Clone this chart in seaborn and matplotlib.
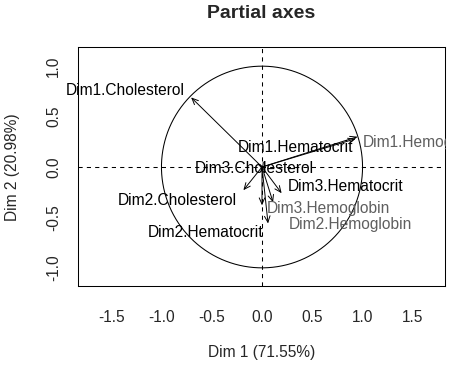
import numpy as np
import pandas as pd
import matplotlib
matplotlib.use("Agg")
import matplotlib.pyplot as plt
from matplotlib.transforms import Bbox
import seaborn as sns

# ---- data ----
names = ["Dim1.Cholesterol", "Dim1.Hematocrit", "Dim1.Hemoglobin",
         "Dim2.Cholesterol", "Dim2.Hematocrit", "Dim2.Hemoglobin",
         "Dim3.Cholesterol", "Dim3.Hematocrit", "Dim3.Hemoglobin"]
dim1 = [-0.705, 0.93, 0.95, -0.185, 0.00, 0.06, 0.01, 0.195, 0.11]
dim2 = [0.69, 0.28, 0.30, -0.23, -0.38, -0.56, -0.03, -0.26, -0.35]
groups = ["Cholesterol", "Hematocrit", "Hemoglobin",
          "Cholesterol", "Hematocrit", "Hemoglobin",
          "Cholesterol", "Hematocrit", "Hemoglobin"]
# label anchor positions (centre of each label, data units)
label_x = [-1.36, 0.33, 1.61, -0.84, -0.56, 0.875, -0.08, 0.83, 0.665]
label_y = [0.756, 0.19, 0.24, -0.33, -0.65, -0.57, -0.01, -0.19, -0.41]
xticks = [-1.5, -1.0, -0.5, 0.0, 0.5, 1.0, 1.5]
yticks = [-1.0, -0.5, 0.0, 0.5, 1.0]
xlabel = "Dim 1 (71.55%)"
ylabel = "Dim 2 (20.98%)"
title = "Partial axes"

group_colors = {"Cholesterol": "black", "Hematocrit": "black", "Hemoglobin": "#5f5f5f"}

df = pd.DataFrame({"name": names, "x": dim1, "y": dim2, "group": groups,
                   "lx": label_x, "ly": label_y})

sns.set_style("white")
plt.rcParams["font.family"] = ["Liberation Sans", "DejaVu Sans"]
fs = 11.2

fig = plt.figure(figsize=(4.5, 3.66), dpi=100)
ax = fig.add_axes([78 / 450, 1 - 286 / 366, (445 - 78) / 450, (286 - 47) / 366])

# unit circle
theta = np.linspace(0, 2 * np.pi, 400)
circ = pd.DataFrame({"cx": np.cos(theta), "cy": np.sin(theta), "o": np.arange(400)})
sns.lineplot(data=circ, x="cx", y="cy", sort=False, color="black", lw=0.75,
             ax=ax, estimator=None)

# dashed axes
ax.axhline(0, color="black", lw=0.75, ls=(0, (4, 4)))
ax.axvline(0, color="black", lw=0.75, ls=(0, (4, 4)))

# arrows
for _, r in df.iterrows():
    ax.annotate("", xy=(r["x"], r["y"]), xytext=(0, 0),
                arrowprops=dict(arrowstyle="->,head_length=0.45,head_width=0.2",
                                color="black", lw=0.7, shrinkA=0, shrinkB=0))
clip = Bbox.from_extents(0, 0, 446, 366)
for _, r in df.iterrows():
    t = ax.text(r["lx"], r["ly"], r["name"], ha="center", va="center",
                fontsize=fs, color=group_colors[r["group"]], clip_on=True)
    t.set_clip_box(clip)

ax.set_xlim(-1.83, 1.82)
ax.set_ylim(-1.18, 1.19)
ax.set_xticks(xticks)
ax.set_yticks(yticks)
ax.set_xticklabels([f"{t:.1f}" for t in xticks], fontsize=fs)
ax.set_yticklabels([f"{t:.1f}" for t in yticks], fontsize=fs, rotation=90, va="center")
ax.tick_params(axis="both", direction="out", length=6, width=0.75, color="black")
ax.tick_params(axis="x", pad=11)
ax.tick_params(axis="y", pad=6)
for s in ax.spines.values():
    s.set_color("black")
    s.set_linewidth(0.75)
ax.set_xlabel("")
ax.set_ylabel("")

fig.text(261.5 / 450, 1 - 352 / 366, xlabel, ha="center", va="center", fontsize=fs)
fig.text(13 / 450, 1 - 167 / 366, ylabel, ha="center", va="center", fontsize=fs, rotation=90)
fig.text(261.5 / 450, 1 - 13 / 366, title, ha="center", va="center",
         fontsize=14, fontweight="bold")

fig.savefig("out.png", dpi=100, facecolor="white")
